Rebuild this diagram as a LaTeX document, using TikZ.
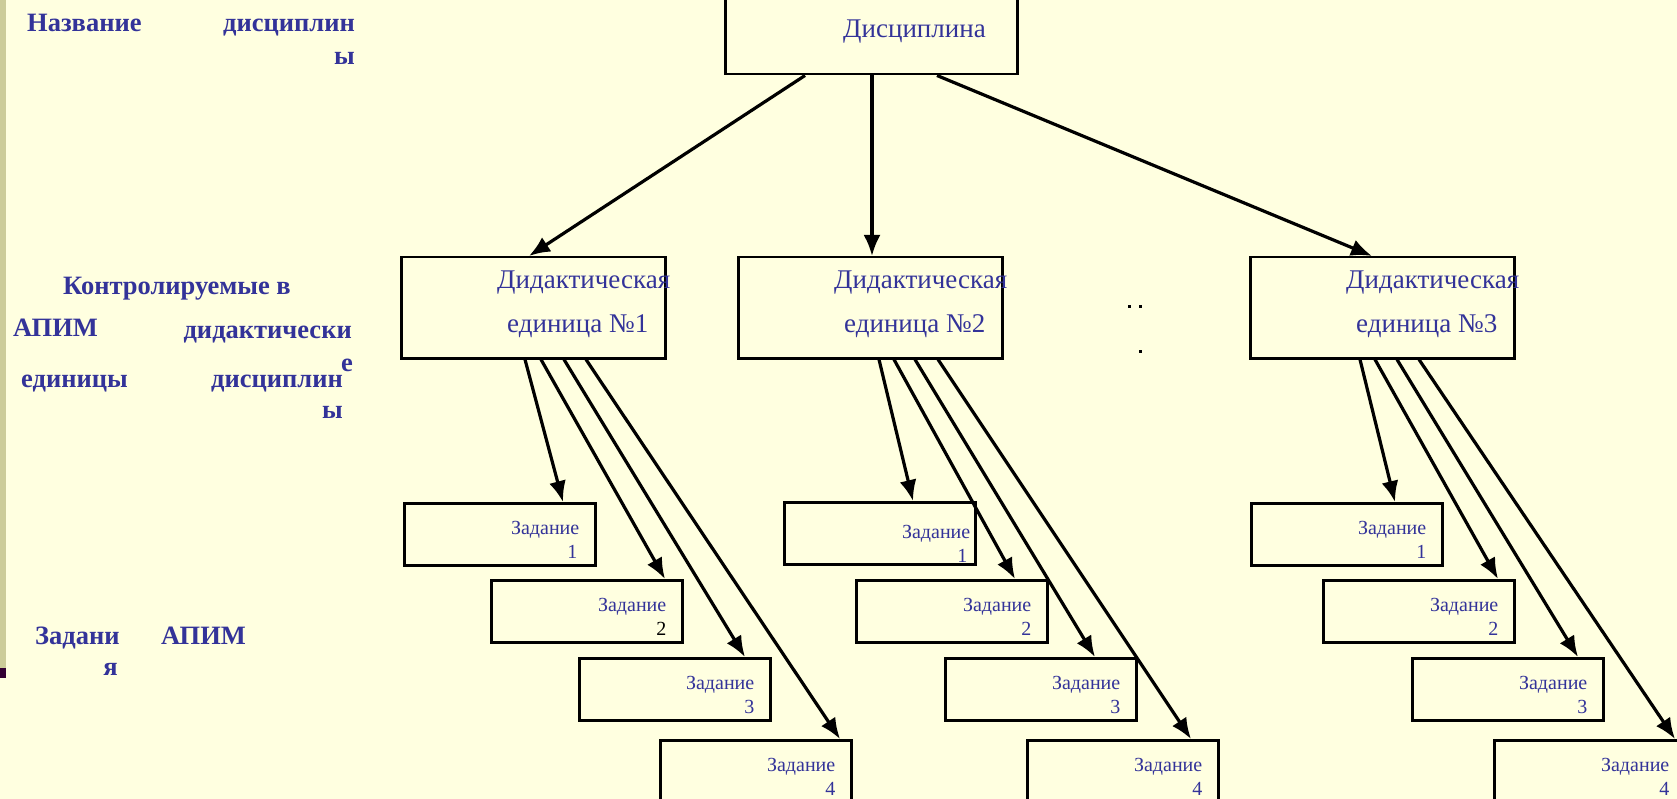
\documentclass[tikz,border=0pt]{standalone}
\usepackage{fontspec}
\setmainfont{Liberation Serif}
\usepackage{tikz}
\usetikzlibrary{arrows.meta, positioning, calc}
\definecolor{slideyellow}{HTML}{FFFFE0}
\definecolor{slideblue}{HTML}{333399}
\definecolor{bartan}{HTML}{CCCC99}
\definecolor{bardark}{HTML}{330033}

\begin{document}
\begin{tikzpicture}[x=1pt, y=-1pt]
			\tikzstyle{discbox}=[draw=black, line width=2.5pt, minimum width=292pt, minimum height=76pt, anchor=north west, inner sep=0pt]
			\tikzstyle{unitbox}=[draw=black, line width=2.5pt, minimum width=264pt, minimum height=101pt, anchor=north west, inner sep=0pt]
			\tikzstyle{taskbox}=[draw=black, line width=2.5pt, minimum width=191pt, minimum height=62pt, anchor=north west, inner sep=0pt]
			\tikzstyle{bigtext}=[text=slideblue, font=\fontsize{27}{30}\selectfont, inner sep=0pt, anchor=base west]
			\tikzstyle{tasktext}=[text=slideblue, font=\fontsize{20}{22}\selectfont, inner sep=0pt, anchor=base east]
			\tikzstyle{sidetext}=[text=slideblue, font=\fontsize{26.5}{30}\selectfont\bfseries, inner sep=0pt]
			\tikzstyle{conn}=[-{Latex[length=21pt, width=17pt]}, line width=3.2pt, black]
			
			\fill [slideyellow] (0,0) rectangle (1677,799);
			\useasboundingbox (0,0) rectangle (1677,799);
			\fill [bartan] (0,0) rectangle (6,668);
			\fill [bardark] (0,668) rectangle (6,678);
			
			%% left column captions
			\node (s1) at (27,32) [sidetext, anchor=base west] {Название};
			\node (s2) at (355,32) [sidetext, anchor=base east] {дисциплин};
			\node (s3) at (355,65) [sidetext, anchor=base east] {ы};
			\node (s4) at (63,295) [sidetext, anchor=base west] {Контролируемые в};
			\node (s5) at (13,336) [sidetext, anchor=base west] {АПИМ};
			\node (s6) at (352,338) [sidetext, anchor=base east] {дидактически};
			\node (s7) at (353,371) [sidetext, anchor=base east] {е};
			\node (s8) at (21,387) [sidetext, anchor=base west] {единицы};
			\node (s9) at (343,387) [sidetext, anchor=base east] {дисциплин};
			\node (s10) at (343,418) [sidetext, anchor=base east] {ы};
			\node (s11) at (35,644) [sidetext, anchor=base west] {Задани};
			\node (s12) at (118,675) [sidetext, anchor=base east] {я};
			\node (s13) at (161,644) [sidetext, anchor=base west] {АПИМ};
			
			%% boxes
			\node (d) at (724,-3) [discbox] {};
			\node (u1) at (400,256) [unitbox] {};
			\node (u2) at (737,256) [unitbox] {};
			\node (u3) at (1249,256) [unitbox] {};
			
			\node (t11) at (403,502) [taskbox] {};
			\node (t12) at (490,579) [taskbox] {};
			\node (t13) at (578,657) [taskbox] {};
			\node (t14) at (659,739) [taskbox] {};
			\node (t21) at (783,501) [taskbox] {};
			\node (t22) at (855,579) [taskbox] {};
			\node (t23) at (944,657) [taskbox] {};
			\node (t24) at (1026,739) [taskbox] {};
			\node (t31) at (1250,502) [taskbox] {};
			\node (t32) at (1322,579) [taskbox] {};
			\node (t33) at (1411,657) [taskbox] {};
			\node (t34) at (1493,739) [taskbox] {};
			
			%% texts in boxes
			\node (dl) at ([shift={(119,41)}]d.north west) [bigtext] {Дисциплина};
			\node (ua1) at ([shift={(97,33)}]u1.north west) [bigtext] {Дидактическая};
			\node (ub1) at ([shift={(107,76)}]u1.north west) [bigtext] {единица №1};
			\node (ua2) at ([shift={(97,33)}]u2.north west) [bigtext] {Дидактическая};
			\node (ub2) at ([shift={(107,76)}]u2.north west) [bigtext] {единица №2};
			\node (ua3) at ([shift={(97,33)}]u3.north west) [bigtext] {Дидактическая};
			\node (ub3) at ([shift={(107,76)}]u3.north west) [bigtext] {единица №3};
			
			\node (za11) at ([shift={(-17,32)}]t11.north east) [tasktext] {Задание};
			\node (zb11) at ([shift={(-19,56)}]t11.north east) [tasktext] {1};
			\node (za12) at ([shift={(-17,32)}]t12.north east) [tasktext] {Задание};
			\node (zb12) at ([shift={(-17,56)}]t12.north east) [tasktext, text=black] {2};
			\node (za13) at ([shift={(-17,32)}]t13.north east) [tasktext] {Задание};
			\node (zb13) at ([shift={(-17,56)}]t13.north east) [tasktext] {3};
			\node (za14) at ([shift={(-17,32)}]t14.north east) [tasktext] {Задание};
			\node (zb14) at ([shift={(-17,56)}]t14.north east) [tasktext] {4};
			\node (za21) at ([shift={(-6,37)}]t21.north east) [tasktext] {Задание};
			\node (zb21) at ([shift={(-9,61)}]t21.north east) [tasktext] {1};
			\node (za22) at ([shift={(-17,32)}]t22.north east) [tasktext] {Задание};
			\node (zb22) at ([shift={(-17,56)}]t22.north east) [tasktext] {2};
			\node (za23) at ([shift={(-17,32)}]t23.north east) [tasktext] {Задание};
			\node (zb23) at ([shift={(-17,56)}]t23.north east) [tasktext] {3};
			\node (za24) at ([shift={(-17,32)}]t24.north east) [tasktext] {Задание};
			\node (zb24) at ([shift={(-17,56)}]t24.north east) [tasktext] {4};
			\node (za31) at ([shift={(-17,32)}]t31.north east) [tasktext] {Задание};
			\node (zb31) at ([shift={(-17,56)}]t31.north east) [tasktext] {1};
			\node (za32) at ([shift={(-17,32)}]t32.north east) [tasktext] {Задание};
			\node (zb32) at ([shift={(-17,56)}]t32.north east) [tasktext] {2};
			\node (za33) at ([shift={(-17,32)}]t33.north east) [tasktext] {Задание};
			\node (zb33) at ([shift={(-17,56)}]t33.north east) [tasktext] {3};
			\node (za34) at ([shift={(-17,32)}]t34.north east) [tasktext] {Задание};
			\node (zb34) at ([shift={(-17,56)}]t34.north east) [tasktext] {4};
			
			%% dots between unit 2 and unit 3
			\fill (1127.5,305.5) rectangle ++(3,3);
			\fill (1138.5,305.5) rectangle ++(3,3);
			\fill (1138.5,349.5) rectangle ++(3,3);
			
			%% arrows
			\draw [conn] ([xshift=81pt]d.south west) -- ([xshift=129pt]u1.north west);
			\draw [conn] ([xshift=148pt]d.south west) -- ([xshift=135pt]u2.north west);
			\draw [conn] ([xshift=213pt]d.south west) -- ([xshift=123pt]u3.north west);
			
			\draw [conn] ([xshift=125pt]u1.south west) -- ([xshift=160pt]t11.north west);
			\draw [conn] ([xshift=141pt]u1.south west) -- ([xshift=175pt]t12.north west);
			\draw [conn] ([xshift=164pt]u1.south west) -- ([xshift=167pt]t13.north west);
			\draw [conn] ([xshift=186pt]u1.south west) -- ([xshift=181pt]t14.north west);
			
			\draw [conn] ([xshift=142pt]u2.south west) -- ([xshift=130pt]t21.north west);
			\draw [conn] ([xshift=157pt]u2.south west) -- ([xshift=160pt]t22.north west);
			\draw [conn] ([xshift=178pt]u2.south west) -- ([xshift=151pt]t23.north west);
			\draw [conn] ([xshift=201pt]u2.south west) -- ([xshift=165pt]t24.north west);
			
			\draw [conn] ([xshift=111pt]u3.south west) -- ([xshift=145pt]t31.north west);
			\draw [conn] ([xshift=126pt]u3.south west) -- ([xshift=176pt]t32.north west);
			\draw [conn] ([xshift=148pt]u3.south west) -- ([xshift=167pt]t33.north west);
			\draw [conn] ([xshift=170pt]u3.south west) -- ([xshift=182pt]t34.north west);
			\end{tikzpicture}
\end{document}
